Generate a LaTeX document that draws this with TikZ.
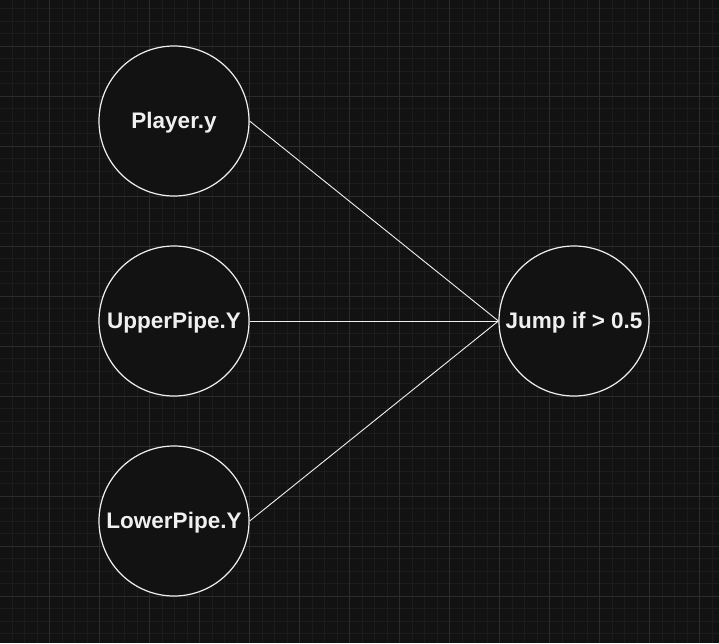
\documentclass[tikz,border=0pt]{standalone}
\usepackage{fontspec}
\setmainfont{Liberation Sans}
\definecolor{bgdark}{RGB}{18,18,18}
\definecolor{gridminor}{RGB}{28,28,28}
\definecolor{gridmajor}{RGB}{44,44,44}
\definecolor{strokelight}{RGB}{240,240,240}
\begin{document}
\begin{tikzpicture}[x=1pt,y=-1pt,
  neuron/.style={circle, fill=bgdark, draw=strokelight, line width=1.2pt, minimum size=150pt, inner sep=0pt, text=strokelight, font=\fontsize{22.5}{26}\selectfont\bfseries, text height=16pt, text depth=2pt},
  wire/.style={draw=strokelight, line width=0.9pt}]
\fill[bgdark] (0,0) rectangle (719,643);
\useasboundingbox (0,0) rectangle (719,643);
% grid
\foreach \i in {0,...,58} \draw[gridminor, line width=0.8pt] ({-0.5+12.5*\i},0) -- ++(0,643);
\foreach \i in {0,...,52} \draw[gridminor, line width=0.8pt] (0,{-4+12.5*\i}) -- ++(719,0);
\foreach \i in {0,...,14} \draw[gridmajor, line width=0.8pt] ({-1+50*\i},0) -- ++(0,643);
\foreach \i in {0,...,13} \draw[gridmajor, line width=0.8pt] (0,{-4+50*\i}) -- ++(719,0);
% nodes
\node [neuron] (player) at (174,121) {Player.y};
\node [neuron] (upper) at (174,321) {UpperPipe.Y};
\node [neuron] (lower) at (174,521) {LowerPipe.Y};
\node [neuron] (jump) at (574,321) {Jump if > 0.5};
\draw [wire] (player.east) -- (jump.west);
\draw [wire] (upper.east) -- (jump.west);
\draw [wire] (lower.east) -- (jump.west);
\end{tikzpicture}
\end{document}
